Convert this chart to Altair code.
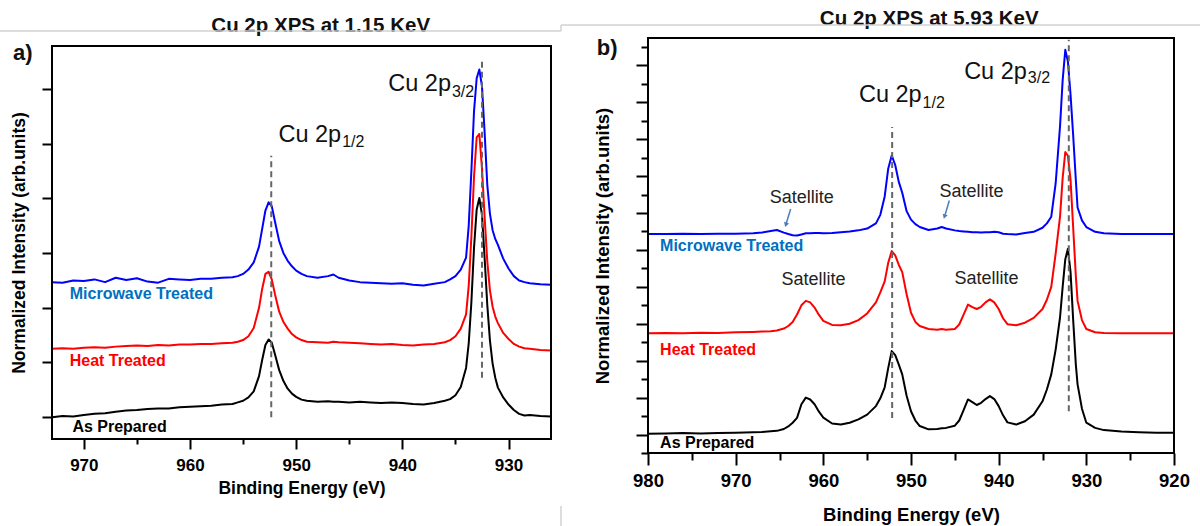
import altair as alt
import pandas as pd

FONT = "Liberation Sans"

SERIES = ["As Prepared", "Heat Treated", "Microwave Treated"]
LINE_COLORS = ["#000000", "#ff0000", "#0000ff"]
LABEL_COLORS = ["#000000", "#ff0000", "#0070c0"]

# ---------------- panel a) Cu 2p XPS at 1.15 keV ----------------
A_EV = [973, 972, 971, 970, 969, 968, 967, 966, 965, 964, 963, 962, 961, 960, 959, 958, 957, 956,
        955.5, 955, 954.5, 954, 953.5, 953.2, 952.9, 952.6, 952.3, 952, 951.6, 951.2, 950.8, 950.4, 950, 949.5, 949,
        948, 947, 946.5, 946, 945, 944, 943, 942, 941, 940, 939, 938, 937, 936,
        935.5, 935, 934.5, 934, 933.75, 933.5, 933.25, 933, 932.75, 932.5, 932.25, 932,
        931.75, 931.5, 931.25, 931, 930.5, 930, 929.5, 929, 928.5, 928, 927, 926]
A_PREP = [0.00, 0.02, 0.01, 0.04, 0.06, 0.07, 0.10, 0.12, 0.13, 0.15, 0.16, 0.16, 0.18, 0.19, 0.20, 0.21, 0.23, 0.24,
          0.27, 0.30, 0.36, 0.47, 0.75, 1.05, 1.32, 1.42, 1.36, 1.15, 0.86, 0.66, 0.52, 0.43, 0.37, 0.32, 0.30,
          0.28, 0.29, 0.28, 0.28, 0.27, 0.28, 0.27, 0.26, 0.27, 0.26, 0.24, 0.23, 0.26, 0.30,
          0.33, 0.40, 0.55, 0.90, 1.35, 2.10, 3.10, 3.80, 4.01, 3.70, 2.90, 2.05,
          1.40, 0.98, 0.72, 0.54, 0.36, 0.23, 0.13, 0.06, 0.03, 0.04, 0.02, 0.01]
A_HEAT = [1.25, 1.26, 1.25, 1.27, 1.28, 1.27, 1.29, 1.30, 1.31, 1.30, 1.32, 1.31, 1.33, 1.33, 1.34, 1.34, 1.35, 1.36,
          1.38, 1.41, 1.48, 1.63, 2.00, 2.35, 2.62, 2.66, 2.52, 2.25, 1.93, 1.74, 1.62, 1.52, 1.46, 1.41, 1.38,
          1.37, 1.36, 1.38, 1.37, 1.36, 1.35, 1.34, 1.33, 1.34, 1.32, 1.31, 1.33, 1.34, 1.37,
          1.41, 1.48, 1.62, 1.88, 2.40, 3.30, 4.40, 5.12, 5.18, 4.55, 3.65, 2.85,
          2.32, 2.02, 1.84, 1.72, 1.54, 1.43, 1.34, 1.29, 1.26, 1.25, 1.23, 1.22]
A_MW = [2.47, 2.46, 2.50, 2.49, 2.52, 2.47, 2.55, 2.51, 2.54, 2.48, 2.46, 2.53, 2.52, 2.51, 2.53, 2.53, 2.55, 2.56,
        2.58, 2.62, 2.70, 2.83, 3.12, 3.45, 3.78, 3.93, 3.86, 3.58, 3.22, 3.00, 2.86, 2.76, 2.68, 2.62, 2.58,
        2.55, 2.58, 2.61, 2.55, 2.50, 2.47, 2.46, 2.45, 2.44, 2.45, 2.42, 2.41, 2.44, 2.47,
        2.52, 2.58, 2.70, 2.92, 3.50, 4.50, 5.60, 6.20, 6.36, 6.05, 5.20, 4.25,
        3.72, 3.42, 3.26, 3.15, 2.90, 2.72, 2.58, 2.50, 2.47, 2.45, 2.43, 2.42]

A_XDOM = [926, 973]
A_YDOM = [-0.40, 6.79]
A_XMAJOR = [930, 940, 950, 960, 970]
A_XMINOR = [935, 945, 955, 965]
A_YMAJOR = [0, 1, 2, 3, 4, 5, 6]
A_DASH_X = [952.35, 932.5]
A_DASH_LO = [0.0, 0.72]
A_DASH_HI = [4.78, 6.56]
A_PEAK_X = [951.67, 941.33]
A_PEAK_Y = [5.04, 5.96]
A_SUB_TEXT = ["1/2", "3/2"]
A_SUB_Y = [4.95, 5.86]
A_LABEL_X = [971.08, 971.33, 971.33]
A_LABEL_Y = [-0.28, 0.94, 2.165]
A_TITLE = ["Cu 2p XPS at 1.15 KeV"]
A_TITLE_XY = [947.69, 7.04]
A_LETTER = ["a)"]
A_LETTER_XY = [976.68, 6.54]

# ---------------- panel b) Cu 2p XPS at 5.93 keV ----------------
B_EV = [980, 978, 976, 974, 972, 970, 968, 967, 966,
        965.3, 964.5, 964, 963.5, 963, 962.5, 962, 961.5, 961, 960.5, 960,
        959, 958, 957, 956, 955, 954,
        953.5, 953, 952.6, 952.2, 951.8, 951.4, 951, 950.5, 950, 949.5, 949,
        948, 947, 946.5, 946, 945, 944.5, 944, 943.5, 943, 942.5, 942, 941.5, 941, 940.5, 940, 939.5, 939,
        938, 937, 936, 935, 934.5, 934, 933.5, 933,
        932.7, 932.4, 932.1, 931.8, 931.5, 931.2, 931,
        930.5, 930, 929, 928, 926, 924, 922, 920]
B_PREP = [0.02, 0.03, 0.04, 0.03, 0.04, 0.05, 0.06, 0.07, 0.09,
          0.10, 0.15, 0.22, 0.32, 0.45, 0.82, 1.00, 0.95, 0.82, 0.62, 0.46,
          0.30, 0.27, 0.32, 0.41, 0.54, 0.77,
          0.98, 1.28, 1.80, 2.26, 2.15, 1.90, 1.63, 1.05, 0.63, 0.38, 0.23,
          0.14, 0.15, 0.17, 0.18, 0.24, 0.38, 0.66, 0.95, 0.88, 0.80, 0.86, 0.96, 1.04, 0.96, 0.77, 0.52, 0.33,
          0.27, 0.36, 0.54, 0.90, 1.22, 1.63, 2.30, 3.17,
          4.00, 4.75, 5.03, 4.40, 3.10, 1.90, 1.36,
          0.70, 0.32, 0.18, 0.12, 0.08, 0.06, 0.05, 0.05]
B_HEAT = [2.74, 2.75, 2.74, 2.76, 2.75, 2.77, 2.78, 2.79, 2.80,
          2.82, 2.87, 2.94, 3.05, 3.25, 3.50, 3.62, 3.58, 3.44, 3.24, 3.08,
          2.97, 2.96, 3.00, 3.10, 3.28, 3.58,
          3.85, 4.15, 4.65, 4.97, 4.85, 4.60, 4.40, 3.80, 3.30, 3.05, 2.94,
          2.86, 2.84, 2.86, 2.84, 2.86, 2.98, 3.25, 3.52, 3.45, 3.40, 3.46, 3.58, 3.66, 3.58, 3.40, 3.15, 2.99,
          2.96, 3.03, 3.16, 3.40, 3.65, 4.00, 4.90, 5.90,
          6.95, 7.65, 7.55, 6.90, 5.60, 4.30, 3.62,
          3.10, 2.86, 2.77, 2.75, 2.74, 2.74, 2.74, 2.74]
B_MW = [5.43, 5.43, 5.44, 5.43, 5.44, 5.44, 5.45, 5.47, 5.51,
        5.54, 5.47, 5.43, 5.40, 5.39, 5.42, 5.45, 5.45, 5.46, 5.46, 5.45,
        5.46, 5.48, 5.50, 5.53, 5.58, 5.72,
        5.95, 6.45, 7.20, 7.56, 7.30, 6.85, 6.55, 6.05, 5.82, 5.70, 5.62,
        5.54, 5.58, 5.62, 5.58, 5.53, 5.51, 5.50, 5.49, 5.48, 5.48, 5.47, 5.48, 5.48, 5.49, 5.48, 5.44, 5.43,
        5.42, 5.46, 5.49, 5.60, 5.72, 5.90, 6.80, 8.35,
        9.60, 10.42, 10.10, 9.20, 8.10, 6.90, 6.15,
        5.80, 5.62, 5.49, 5.45, 5.43, 5.43, 5.43, 5.43]

B_XDOM = [920, 980]
B_YDOM = [-0.5, 10.74]
B_XMAJOR = [920, 930, 940, 950, 960, 970, 980]
B_XMINOR = [925, 935, 945, 955, 965, 975]
B_YMAJOR = [0, 1, 2, 3, 4, 5, 6, 7, 8, 9, 10]
B_YMINOR = [-0.5, 0.5, 1.5, 2.5, 3.5, 4.5, 5.5, 6.5, 7.5, 8.5, 9.5, 10.5]
B_DASH_X = [952.15, 932.0]
B_DASH_LO = [0.45, 0.63]
B_DASH_HI = [8.33, 10.69]
B_PEAK_X = [955.94, 943.94]
B_PEAK_Y = [9.01, 9.64]
B_SUB_TEXT = ["1/2", "3/2"]
B_SUB_Y = [8.85, 9.51]
B_SAT_X = [962.47, 943.09, 961.11, 941.40]
B_SAT_Y = [6.27, 6.44, 4.05, 4.07]
B_ARROW_X0 = [963.73, 945.63]
B_ARROW_Y0 = [6.11, 6.34]
B_ARROW_X1 = [964.25, 946.15]
B_ARROW_Y1 = [5.70, 5.92]
B_LABEL_X = [978.62, 978.62, 978.62]
B_LABEL_Y = [-0.36, 2.15, 4.98]
B_TITLE = ["Cu 2p XPS at 5.93 KeV"]
B_TITLE_XY = [947.92, 11.08]
B_LETTER = ["b)"]
B_LETTER_XY = [985.85, 10.28]

PEAK_SIZE = 23.5
SUB_SIZE = 16
CANVAS_W = 1200
CANVAS_H = 526

# pixel extents of the two plot boxes: (left, right, top, bottom)
A_BOX = (52, 551, 46, 439)
B_BOX = (648, 1174, 38, 453)


def text_layer(df, xs, ys, size, weight="normal", color="#111111", align="left", dx=0):
    return alt.Chart(df).mark_text(
        font=FONT, fontSize=size, fontWeight=weight, align=align, baseline="alphabetic", color=color, dx=dx
    ).encode(
        x=alt.X("x:Q", scale=xs, axis=None),
        y=alt.Y("y:Q", scale=ys, axis=None),
        text="t:N",
    )


def panel(cfg):
    left_px, right_px, top_px, bottom_px = cfg["box"]
    xs = alt.Scale(domain=cfg["xdom"], range=[right_px, left_px], nice=False, zero=False)
    ys = alt.Scale(domain=cfg["ydom"], range=[bottom_px, top_px], nice=False, zero=False)
    ev = cfg["ev"]
    xoff = bottom_px - CANVAS_H
    yoff = -left_px

    layers = []
    # spectra: microwave first, then heat treated, as prepared on top
    for vals, col in zip(cfg["series"][::-1], LINE_COLORS[::-1]):
        df = pd.DataFrame({"ev": ev, "val": vals})
        layers.append(
            alt.Chart(df).mark_line(color=col, strokeWidth=2, strokeJoin="round").encode(
                x=alt.X("ev:Q", scale=xs, axis=None),
                y=alt.Y("val:Q", scale=ys, axis=None),
                order="ev:Q",
            )
        )

    # major ticks, tick labels and axis titles
    anchor = pd.DataFrame({"x": [cfg["xdom"][0]], "y": [cfg["ydom"][0]]})
    x_axis = alt.Axis(
        orient="bottom", offset=xoff, values=cfg["xmajor"], format="d",
        tickSize=cfg["tick_major"], tickWidth=2, tickColor="black", grid=False, domain=False,
        labelFont=FONT, labelFontSize=cfg["label_size"], labelFontWeight="bold", labelColor="black",
        labelBaseline="alphabetic", labelPadding=cfg["label_pad"], labelFlush=False, labelOverlap=False,
        title="Binding Energy (eV)", titleFont=FONT, titleFontSize=cfg["title_size"], titleFontWeight="bold",
        titleColor="black", titleBaseline="alphabetic", titleY=cfg["xtitle_y"],
    )
    y_axis = alt.Axis(
        orient="left", offset=yoff, values=cfg["ymajor"],
        tickSize=cfg["ytick_major"], tickWidth=2, tickColor="black", grid=False, labels=False, domain=False,
        title="Normalized Intensity (arb.units)", titleFont=FONT, titleFontSize=cfg["title_size"],
        titleFontWeight="bold", titleColor="black", titleAngle=270, titleBaseline="alphabetic",
        titleX=cfg["ytitle_x"],
    )
    layers.append(
        alt.Chart(anchor).mark_point(opacity=0, size=1).encode(
            x=alt.X("x:Q", scale=xs, axis=x_axis),
            y=alt.Y("y:Q", scale=ys, axis=y_axis),
        )
    )

    # dashed peak guides, carrying the minor ticks
    dash = pd.DataFrame({"x": cfg["dash_x"], "y": cfg["dash_lo"], "y2": cfg["dash_hi"]})
    x_minor = alt.Axis(orient="bottom", offset=xoff, values=cfg["xminor"], tickSize=cfg["tick_minor"],
                       tickWidth=2, tickColor="black", domain=False, grid=False, labels=False, title="")
    if cfg["yminor"]:
        y_minor = alt.Axis(orient="left", offset=yoff, values=cfg["yminor"], tickSize=cfg["ytick_minor"],
                           tickWidth=2, tickColor="black", domain=False, grid=False, labels=False, title="")
        y_enc = alt.Y("y:Q", scale=ys, axis=y_minor)
    else:
        y_enc = alt.Y("y:Q", scale=ys, axis=None)
    layers.append(
        alt.Chart(dash).mark_rule(color="#666666", strokeWidth=2, strokeDash=[6, 4]).encode(
            x=alt.X("x:Q", scale=xs, axis=x_minor), y=y_enc, y2="y2:Q",
        )
    )

    # peak names, each followed by its subscript
    layers.append(text_layer(pd.DataFrame({"x": cfg["peak_x"], "y": cfg["peak_y"], "t": ["Cu 2p"] * 2}),
                             xs, ys, PEAK_SIZE))
    layers.append(text_layer(pd.DataFrame({"x": cfg["peak_x"], "y": cfg["sub_y"], "t": cfg["sub_text"]}),
                             xs, ys, SUB_SIZE, dx=2.668 * PEAK_SIZE + 1))

    # series labels
    for name, lx, ly, col in zip(SERIES, cfg["label_x"], cfg["label_y"], LABEL_COLORS):
        layers.append(text_layer(pd.DataFrame({"x": [lx], "y": [ly], "t": [name]}), xs, ys, 16, "bold", col))

    # panel title and letter
    layers.append(text_layer(pd.DataFrame({"x": [cfg["title_xy"][0]], "y": [cfg["title_xy"][1]], "t": cfg["title"]}),
                             xs, ys, 20.5, "bold", "#111111", "center"))
    layers.append(text_layer(pd.DataFrame({"x": [cfg["letter_xy"][0]], "y": [cfg["letter_xy"][1]], "t": cfg["letter"]}),
                             xs, ys, 22, "bold", "#111111"))

    # satellite annotations with arrows
    if cfg.get("sat_x"):
        layers.append(text_layer(pd.DataFrame({"x": cfg["sat_x"], "y": cfg["sat_y"], "t": ["Satellite"] * len(cfg["sat_x"])}),
                                 xs, ys, 18, "normal", "#222222", "center"))
        arr = pd.DataFrame({"x": cfg["arrow_x0"], "y": cfg["arrow_y0"], "x2": cfg["arrow_x1"], "y2": cfg["arrow_y1"]})
        layers.append(
            alt.Chart(arr).mark_rule(color="#4a7ebb", strokeWidth=1.5).encode(
                x=alt.X("x:Q", scale=xs, axis=None), y=alt.Y("y:Q", scale=ys, axis=None), x2="x2:Q", y2="y2:Q",
            )
        )
        layers.append(
            alt.Chart(arr).mark_point(shape="triangle", filled=True, color="#4a7ebb", size=28, opacity=1, angle=198).encode(
                x=alt.X("x2:Q", scale=xs, axis=None), y=alt.Y("y2:Q", scale=ys, axis=None),
            )
        )

    return alt.layer(*layers).resolve_axis(x="independent", y="independent")


panel_a = panel(dict(
    ev=A_EV, series=[A_PREP, A_HEAT, A_MW], box=A_BOX,
    xdom=A_XDOM, ydom=A_YDOM,
    xmajor=A_XMAJOR, xminor=A_XMINOR, ymajor=A_YMAJOR, yminor=[],
    tick_major=10, tick_minor=5, ytick_major=10, ytick_minor=5,
    label_size=17, label_pad=21.5, title_size=17.5, xtitle_y=54.3, ytitle_x=-27.3,
    dash_x=A_DASH_X, dash_lo=A_DASH_LO, dash_hi=A_DASH_HI,
    peak_x=A_PEAK_X, peak_y=A_PEAK_Y, sub_text=A_SUB_TEXT, sub_y=A_SUB_Y,
    label_x=A_LABEL_X, label_y=A_LABEL_Y,
    title=A_TITLE, title_xy=A_TITLE_XY, letter=A_LETTER, letter_xy=A_LETTER_XY,
))

panel_b = panel(dict(
    ev=B_EV, series=[B_PREP, B_HEAT, B_MW], box=B_BOX,
    xdom=B_XDOM, ydom=B_YDOM,
    xmajor=B_XMAJOR, xminor=B_XMINOR, ymajor=B_YMAJOR, yminor=B_YMINOR,
    tick_major=12, tick_minor=7, ytick_major=12, ytick_minor=7,
    label_size=18.5, label_pad=21.5, title_size=18.5, xtitle_y=67.5, ytitle_x=-40.0,
    dash_x=B_DASH_X, dash_lo=B_DASH_LO, dash_hi=B_DASH_HI,
    peak_x=B_PEAK_X, peak_y=B_PEAK_Y, sub_text=B_SUB_TEXT, sub_y=B_SUB_Y,
    label_x=B_LABEL_X, label_y=B_LABEL_Y,
    title=B_TITLE, title_xy=B_TITLE_XY, letter=B_LETTER, letter_xy=B_LETTER_XY,
    sat_x=B_SAT_X, sat_y=B_SAT_Y, arrow_x0=B_ARROW_X0, arrow_y0=B_ARROW_Y0,
    arrow_x1=B_ARROW_X1, arrow_y1=B_ARROW_Y1,
))

# light-grey page edges around the two figure panels
one = pd.DataFrame({"k": [0]})


def page_line(color, width, x, y, x2=None, y2=None):
    enc = dict(x=alt.value(x), y=alt.value(y))
    if x2 is not None:
        enc["x2"] = alt.value(x2)
    if y2 is not None:
        enc["y2"] = alt.value(y2)
    return alt.Chart(one).mark_rule(color=color, strokeWidth=width).encode(**enc)


edges = [
    page_line("#d2d2d2", 1.5, 0, 31, x2=561),
    page_line("#d2d2d2", 1.5, 561, 25, x2=1200),
    page_line("#d2d2d2", 1.5, 561, 25, y2=31),
    page_line("#d2d2d2", 1.5, 561, 506, y2=526),
]

# black plot boxes: four thin filled bars per panel on a page-pixel scale
bar_x0, bar_x1, bar_y0, bar_y1 = [], [], [], []
for left_px, right_px, top_px, bottom_px in (A_BOX, B_BOX):
    bar_x0 += [left_px - 1, left_px - 1, left_px - 1, right_px - 1]
    bar_x1 += [right_px + 1, right_px + 1, left_px + 1, right_px + 1]
    bar_y0 += [top_px - 1, bottom_px - 1, top_px - 1, top_px - 1]
    bar_y1 += [top_px + 1, bottom_px + 1, bottom_px + 1, bottom_px + 1]
bars = pd.DataFrame({"x0": bar_x0, "x1": bar_x1, "y0": bar_y0, "y1": bar_y1})
page_x = alt.Scale(domain=[0, CANVAS_W], range=[0, CANVAS_W], nice=False, zero=False)
page_y = alt.Scale(domain=[0, CANVAS_H], range=[0, CANVAS_H], nice=False, zero=False)
box_bars = alt.Chart(bars).mark_rect(color="#000000", opacity=1).encode(
    x=alt.X("x0:Q", scale=page_x, axis=None), x2="x1:Q",
    y=alt.Y("y0:Q", scale=page_y, axis=None), y2="y1:Q",
)

chart = alt.layer(panel_a, panel_b, *edges, box_bars).resolve_scale(
    x="independent", y="independent"
).resolve_axis(
    x="independent", y="independent"
).properties(
    width=CANVAS_W, height=CANVAS_H, padding=0,
    autosize=alt.AutoSizeParams(type="none"),
    background="white",
).configure_view(strokeOpacity=0)

chart.save("out.html", embed_options={"renderer": "svg", "actions": False})
